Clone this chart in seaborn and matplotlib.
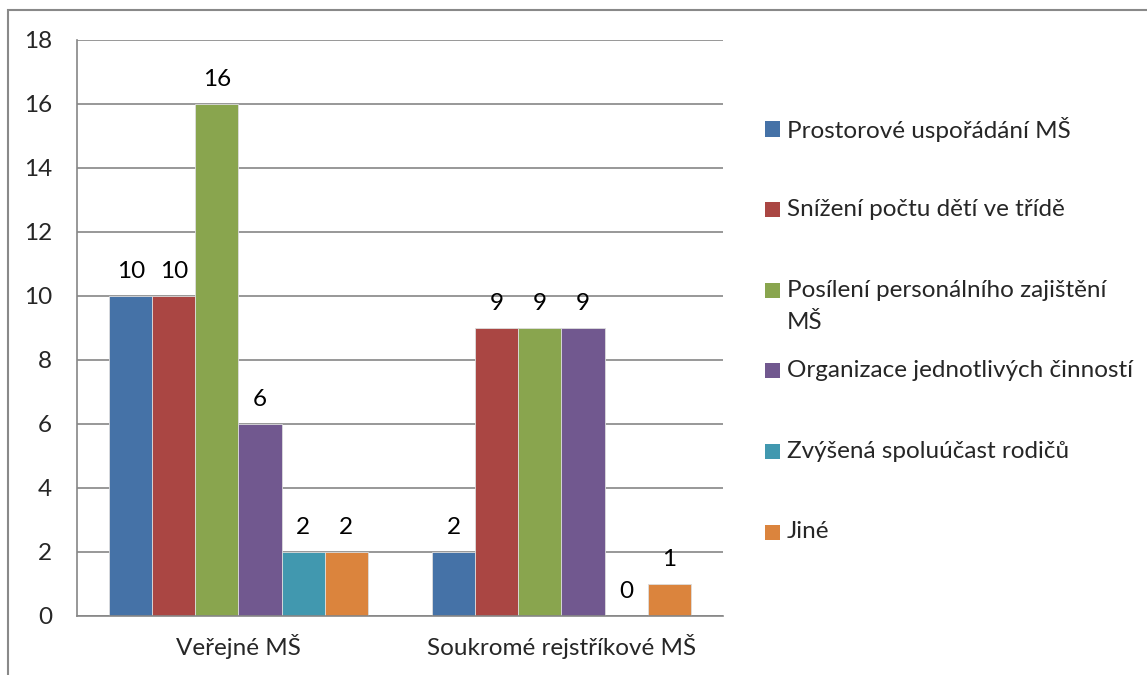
import pandas as pd
import matplotlib.pyplot as plt
import seaborn as sns
from matplotlib.patches import Rectangle

groups = ['Veřejné MŠ', 'Soukromé rejstříkové MŠ']
categories = ['Prostorové uspořádání MŠ', 'Snížení počtu dětí ve třídě',
              'Posílení personálního zajištění\nMŠ', 'Organizace jednotlivých činností',
              'Zvýšená spoluúčast rodičů', 'Jiné']
verejne = [10, 10, 16, 6, 2, 2]
soukrome = [2, 9, 9, 9, 0, 1]
yticks = [0, 2, 4, 6, 8, 10, 12, 14, 16, 18]
colors = ['#4572A7', '#AA4643', '#89A54E', '#71588F', '#4198AF', '#DB843D']

rows = []
for cat, v1, v2 in zip(categories, verejne, soukrome):
    rows.append({'skupina': groups[0], 'kategorie': cat, 'pocet': v1})
    rows.append({'skupina': groups[1], 'kategorie': cat, 'pocet': v2})
df = pd.DataFrame(rows)

sns.set_style('white')
plt.rcParams['font.family'] = ['Lato', 'DejaVu Sans']
FS = 17.5

W, H = 1147, 675
fig = plt.figure(figsize=(W / 100, H / 100), dpi=100)
ax = fig.add_axes([77 / W, 1 - 616 / H, (723 - 77) / W, (616 - 40) / H])

sns.barplot(data=df, x='skupina', y='pocet', hue='kategorie', order=groups,
            hue_order=categories, palette=colors, saturation=1, width=0.8,
            errorbar=None, edgecolor='#dddddd', linewidth=0.6, legend=False, ax=ax)

for c in ax.containers:
    ax.bar_label(c, fmt='%d', padding=10, fontsize=FS, color='black')

grid_c = '#868686'
ax.set_ylim(0, 18)
ax.set_xlim(-0.5, 1.5)
ax.set_yticks(yticks)
ax.yaxis.grid(True, color=grid_c, linewidth=1.2)
ax.set_axisbelow(True)
for s in ['top', 'right']:
    ax.spines[s].set_visible(False)
for s in ['left', 'bottom']:
    ax.spines[s].set_color(grid_c)
    ax.spines[s].set_linewidth(1.2)
ax.tick_params(axis='both', length=0, labelsize=FS)
ax.tick_params(axis='y', pad=18)
ax.tick_params(axis='x', pad=13)
ax.set_xlabel('')
ax.set_ylabel('')

# legend drawn to the right like in the Excel chart
y0, step, line_h = 129, 80.6, 32
for i, (cat, col) in enumerate(zip(categories, colors)):
    yc = y0 + i * step
    fig.add_artist(Rectangle((765 / W, 1 - (yc + 7.5) / H), 15 / W, 15 / H,
                             transform=fig.transFigure, facecolor=col, edgecolor='none'))
    for k, line in enumerate(cat.split('\n')):
        fig.text(787 / W, 1 - (yc + k * line_h) / H, line, fontsize=FS,
                 va='center', ha='left')

# outer chart frame
fig.add_artist(Rectangle((8 / W, -0.2), 2, 1.2 - 10 / H, transform=fig.transFigure,
                         fill=False, edgecolor='#898989', linewidth=1.5))

fig.savefig('out.png', dpi=100)
